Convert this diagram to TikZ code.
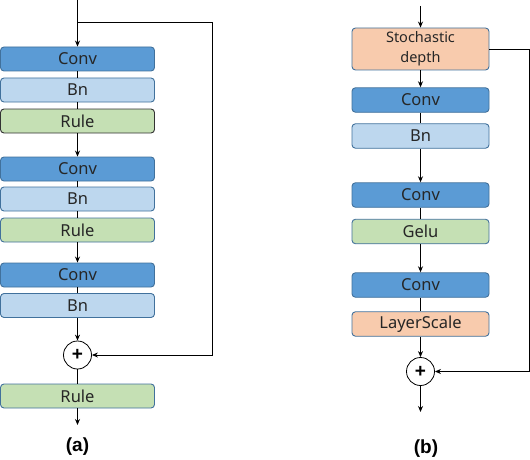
\documentclass[tikz,border=0pt]{standalone}
\usepackage{fontspec}
\setmainfont{Noto Sans}
\newfontfamily\labfont{Liberation Sans}
\usetikzlibrary{arrows.meta}
\definecolor{convfill}{HTML}{5B9BD5}
\definecolor{bnfill}{HTML}{BDD7EE}
\definecolor{rulefill}{HTML}{C5E0B4}
\definecolor{orfill}{HTML}{F8CBAD}
\definecolor{bdr}{HTML}{41719C}
\tikzset{
  blk/.style={draw=bdr, line width=0.9pt, rounded corners=3.5pt, inner sep=0pt, font=\fontsize{16.5}{18}\selectfont, text=black!85},
  acol/.style={blk, minimum width=154pt, minimum height=24pt},
  bcol/.style={blk, minimum width=137pt, minimum height=24.5pt},
  convb/.style={fill=convfill},
  bnb/.style={fill=bnfill},
  ruleb/.style={fill=rulefill},
  orb/.style={fill=orfill},
  pluscirc/.style={draw, circle, line width=0.8pt, minimum size=28pt, inner sep=0pt, fill=white, font=\labfont\bfseries\fontsize{19}{19}\selectfont},
  conn/.style={line width=1pt},
  arr/.style={conn, -{Stealth[length=6pt,width=5pt]}},
  lab/.style={font=\labfont\bfseries\fontsize{19}{21}\selectfont}
}
\begin{document}
\begin{tikzpicture}[x=1pt,y=-1pt]
\useasboundingbox (0,0) rectangle (530,460);
% (a)
\coordinate (atop) at (77.5,0);
\coordinate (abr) at (77.5,23);
\node[acol,convb] (c1) at (77.5,59) {Conv};
\node[acol,bnb] (b1) at (77.5,90) {Bn};
\node[acol,ruleb,draw=black!80] (r1) at (77.5,121) {Rule};
\node[acol,convb] (c2) at (77.5,169) {Conv};
\node[acol,bnb] (b2) at (77.5,199) {Bn};
\node[acol,ruleb] (r2) at (77.5,230) {Rule};
\node[acol,convb] (c3) at (77.5,275) {Conv};
\node[acol,bnb] (b3) at (77.5,305.5) {Bn};
\node[pluscirc] (pa) at (77.5,355) {+};
\node[acol,ruleb] (r4) at (77.5,396) {Rule};
\coordinate (aout) at (77.5,425);
\coordinate (askA) at (212,23);
\coordinate (askB) at (212,355);
\node[lab] (la) at (77.5,447) {(a)};
\draw[arr] (atop) -- (c1);
\draw[conn] (c1) -- (b1);
\draw[conn] (b1) -- (r1);
\draw[arr] (r1) -- (c2);
\draw[conn] (c2) -- (b2);
\draw[conn] (b2) -- (r2);
\draw[arr] (r2) -- (c3);
\draw[conn] (c3) -- (b3);
\draw[arr] (b3) -- (pa);
\draw[conn] (pa) -- (r4);
\draw[arr] (r4) -- (aout);
\draw[arr] (abr) -- (askA) -- (askB) -- (pa);
% (b)
\coordinate (btop) at (420.5,6);
\node[blk,orb,minimum width=137pt,minimum height=42pt,align=center,font=\fontsize{14.5}{20}\selectfont] (sd) at (420.5,49) {Stochastic\\depth};
\node[bcol,convb] (d1) at (420.5,100) {Conv};
\node[bcol,bnb] (e1) at (420.5,136) {Bn};
\node[bcol,convb] (d2) at (420.5,195) {Conv};
\node[bcol,ruleb] (g1) at (420.5,231.5) {Gelu};
\node[bcol,convb] (d3) at (420.5,285) {Conv};
\node[bcol,orb] (ls) at (420.5,324) {LayerScale};
\node[pluscirc] (pb) at (420.5,371.5) {+};
\coordinate (bout) at (420.5,412);
\coordinate (bskA) at (529,50);
\coordinate (bskB) at (529,371.5);
\node[lab] (lb) at (426,449) {(b)};
\draw[arr] (btop) -- (sd);
\draw[arr] (sd) -- (d1);
\draw[conn] (d1) -- (e1);
\draw[arr] (e1) -- (d2);
\draw[conn] (d2) -- (g1);
\draw[arr] (g1) -- (d3);
\draw[conn] (d3) -- (ls);
\draw[arr] (ls) -- (pb);
\draw[arr] (pb) -- (bout);
\draw[arr] (sd.east |- bskA) -- (bskA) -- (bskB) -- (pb);
\end{tikzpicture}
\end{document}
